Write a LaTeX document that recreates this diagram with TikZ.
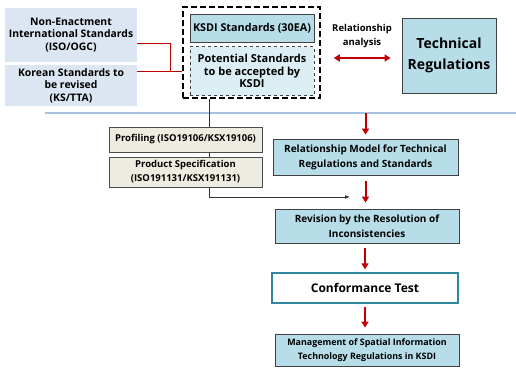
\documentclass[tikz,border=0pt]{standalone}
\usepackage{fontspec}
\setmainfont{Open Sans}
\usetikzlibrary{arrows.meta,positioning}

\definecolor{paleblue}{HTML}{DCE6F2}
\definecolor{aqua}{HTML}{B7DEE8}
\definecolor{lightaqua}{HTML}{DBEEF4}
\definecolor{beige}{HTML}{EEECE1}
\definecolor{darkred}{HTML}{C00000}
\definecolor{skyline}{HTML}{A6C4E0}
\definecolor{teal}{HTML}{31859C}

\begin{document}
\begin{tikzpicture}[x=1pt,y=-1pt,
every node/.style = {align=center, inner sep=1pt,
	font=\bfseries\fontsize{10}{15}\selectfont},
srcbox/.style = {fill=paleblue, minimum width=132pt,
	font=\bfseries\fontsize{10.4}{12.6}\selectfont},
stdbox/.style = {draw=black!75, line width=0.8pt, fill=aqua},
profbox/.style = {draw=black!70, line width=0.6pt, fill=beige,
	minimum width=153pt, font=\bfseries\fontsize{9.5}{14}\selectfont},
redarrow/.style = {draw=darkred, line width=2pt,
	-{Triangle[length=6pt,width=7pt]}}]
\useasboundingbox (0,0) rectangle (516,367);

% sources on the left
\node[srcbox, minimum height=54pt] (intl) at (71,35)
	{Non-Enactment\\International Standards\\(ISO/OGC)};
\node[srcbox, minimum height=41pt] (korean) at (71,85.5)
	{Korean Standards to\\be revised\\(KS/TTA)};

% standards group
\node[draw, dashed, line width=1.5pt, dash pattern=on 6pt off 3pt,
	minimum width=137pt, minimum height=91pt] (group) at (251.5,52.5) {};
\node[stdbox, minimum width=124pt, minimum height=28pt,
	font=\bfseries\fontsize{10.8}{13}\selectfont] (ksdi) at (252,28)
	{KSDI Standards (30EA)};
\node[draw=black!75, dashed, line width=0.8pt, fill=lightaqua,
	minimum width=124pt, minimum height=49pt,
	font=\bfseries\fontsize{11}{12.5}\selectfont] (potential) at (252,71)
	{Potential Standards\\to be accepted by\\KSDI};

\node[stdbox, minimum width=94pt, minimum height=75pt,
	font=\bfseries\fontsize{14}{21}\selectfont] (techreg) at (449,55.5)
	{Technical\\Regulations};
\node[font=\bfseries\fontsize{9.5}{14}\selectfont] (analysis) at (362,36)
	{Relationship\\analysis};

\coordinate (join) at (170,0);
\draw[darkred, line width=1pt] (intl.east |- 0,43) -| (join |- potential.west)
	-- (group.west |- potential.west);
\draw[darkred, line width=1pt] (korean.east |- potential.west)
	-- (join |- potential.west);
\draw[darkred, line width=2pt, {Triangle[length=6pt,width=7pt]}-{Triangle[length=6pt,width=7pt]},
	shorten <=13pt, shorten >=11pt] (group.east |- 0,58) -- (techreg.west |- 0,58);

% separator
\coordinate (sepL) at (45,113);
\coordinate (sepR) at (516,113);
\draw[skyline, line width=1.5pt] (sepL) -- (sepR);

% profiles
\node[profbox, minimum height=25pt] (profiling) at (185.5,139.5)
	{Profiling (ISO19106/KSX19106)};
\node[profbox, minimum height=30pt] (product) at (185.5,172)
	{Product Specification\\(ISO191131/KSX191131)};
\coordinate (feed) at (350,197);
\draw[black!80, line width=0.8pt] ([xshift=-42pt]group.south)
	-- ([xshift=24pt]profiling.north);
\draw[black!80, line width=0.8pt] ([xshift=24pt]profiling.south)
	-- ([xshift=24pt]product.north);
\draw[black!80, line width=0.8pt, -{Latex[length=5pt]}]
	([xshift=24pt]product.south) |- (feed);

% process chain
\node[stdbox, minimum width=185pt, minimum height=36pt] (model) at (365.5,157)
	{Relationship Model for Technical\\Regulations and Standards};
\node[stdbox, minimum width=184pt, minimum height=34pt] (revision) at (367,226)
	{Revision by the Resolution of\\Inconsistencies};
\node[draw=teal, line width=1.3pt, fill=white, minimum width=186pt,
	minimum height=30pt, font=\bfseries\fontsize{12}{14}\selectfont]
	(conformance) at (365,288) {Conformance Test};
\node[stdbox, minimum width=184pt, minimum height=32pt,
	font=\bfseries\fontsize{8.9}{14}\selectfont] (mgmt) at (367,350)
	{Management of Spatial Information\\Technology Regulations in KSDI};

\draw[redarrow, shorten >=4pt] (model.north |- sepL) -- (model.north);
\draw[redarrow, shorten <=6pt, shorten >=6pt] (model.south) -- (model.south |- revision.north);
\draw[redarrow, shorten <=5pt, shorten >=3pt] (conformance.north |- revision.south) -- (conformance.north);
\draw[redarrow, shorten <=3pt, shorten >=6pt] (conformance.south) -- (conformance.south |- mgmt.north);
\end{tikzpicture}
\end{document}
